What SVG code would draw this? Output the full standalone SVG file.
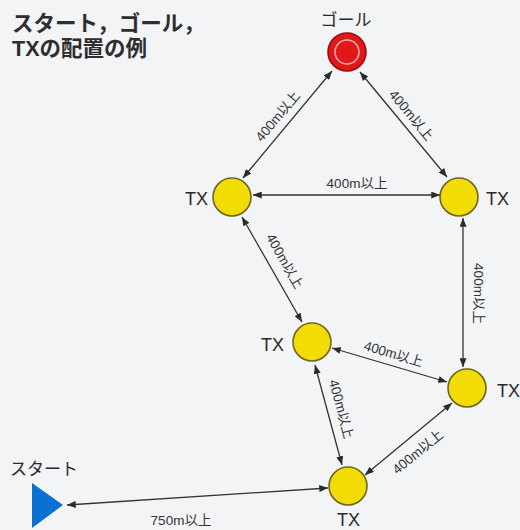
<svg xmlns="http://www.w3.org/2000/svg" width="520" height="530" viewBox="0 0 520 530">
  <defs>
    <marker id="arrow" viewBox="0 0 10 8" refX="10" refY="4" markerWidth="9" markerHeight="7" markerUnits="userSpaceOnUse" orient="auto-start-reverse">
      <path d="M0,0 L10,4 L0,8 z" fill="#2b2b2b"/>
    </marker>
    <style>
      .bg { fill: #f3f4f6; }
      .title { font-family: "Liberation Sans", "Noto Sans CJK JP", sans-serif; font-size: 21.5px; font-weight: bold; fill: #2e2e2e; }
      .name { font-family: "Liberation Sans", "Noto Sans CJK JP", sans-serif; font-size: 17px; fill: #2a2a2a; }
      .tx { font-family: "Liberation Sans", "Noto Sans CJK JP", sans-serif; font-size: 18px; fill: #2a2a2a; }
      .dist { font-family: "Liberation Sans", "Noto Sans CJK JP", sans-serif; font-size: 13.5px; fill: #333; text-anchor: middle; }
      .link { stroke: #333; stroke-width: 1.3; fill: none; marker-start: url(#arrow); marker-end: url(#arrow); }
      .txnode { fill: #f2dc05; stroke: #6f6424; stroke-width: 1.6; }
    </style>
  </defs>

  <rect class="bg" x="0" y="0" width="520" height="530"/>

  <!-- title -->
  <text class="title" x="12" y="31">スタート，ゴール，</text>
  <text class="title" x="12" y="56">TXの配置の例</text>

  <!-- connectors with distance labels -->
  <g id="connectors">
    <line class="link" x1="332" y1="71" x2="243" y2="178"/>
    <line class="link" x1="360" y1="72" x2="447" y2="177"/>
    <line class="link" x1="253" y1="195" x2="440" y2="195"/>
    <line class="link" x1="242" y1="217" x2="302" y2="322"/>
    <line class="link" x1="463" y1="218" x2="463" y2="367"/>
    <line class="link" x1="332" y1="348" x2="447" y2="382"/>
    <line class="link" x1="315" y1="365" x2="342" y2="465"/>
    <line class="link" x1="452" y1="403" x2="365" y2="475"/>
    <line class="link" x1="67" y1="505" x2="328" y2="488"/>

    <text class="dist" transform="translate(281.3,119.2) rotate(-50.2)">400m以上</text>
    <text class="dist" transform="translate(407.7,118.2) rotate(50.4)">400m以上</text>
    <text class="dist" x="357" y="188">400m以上</text>
    <text class="dist" transform="translate(280.7,263.5) rotate(60.3)">400m以上</text>
    <text class="dist" transform="translate(473.5,293.5) rotate(90)">400m以上</text>
    <text class="dist" transform="translate(392.1,358.3) rotate(16.5)">400m以上</text>
    <text class="dist" transform="translate(336.7,410.3) rotate(74.9)">400m以上</text>
    <text class="dist" transform="translate(420.7,455.4) rotate(-39.6)">400m以上</text>
    <text class="dist" x="181" y="525">750m以上</text>
  </g>

  <!-- goal -->
  <g id="goal">
    <text class="name" x="346" y="26" text-anchor="middle">ゴール</text>
    <circle cx="347" cy="52" r="19" fill="#e01818" stroke="#9a1010" stroke-width="1.6"/>
    <circle cx="347" cy="52" r="12" fill="none" stroke="#f7a9a9" stroke-width="1.6"/>
  </g>

  <!-- transmitters -->
  <g id="tx1">
    <circle class="txnode" cx="232" cy="197" r="19"/>
    <text class="tx" x="185" y="205">TX</text>
  </g>
  <g id="tx2">
    <circle class="txnode" cx="459" cy="197" r="19"/>
    <text class="tx" x="486" y="205">TX</text>
  </g>
  <g id="tx3">
    <circle class="txnode" cx="312" cy="342" r="19"/>
    <text class="tx" x="261" y="351">TX</text>
  </g>
  <g id="tx4">
    <circle class="txnode" cx="467" cy="388" r="19"/>
    <text class="tx" x="497" y="397">TX</text>
  </g>
  <g id="tx5">
    <circle class="txnode" cx="348" cy="486" r="19"/>
    <text class="tx" x="337" y="526">TX</text>
  </g>

  <!-- start -->
  <g id="start">
    <text class="name" x="10" y="475">スタート</text>
    <polygon points="32,483 63,505 32,528" fill="#0a70d2"/>
  </g>
</svg>
